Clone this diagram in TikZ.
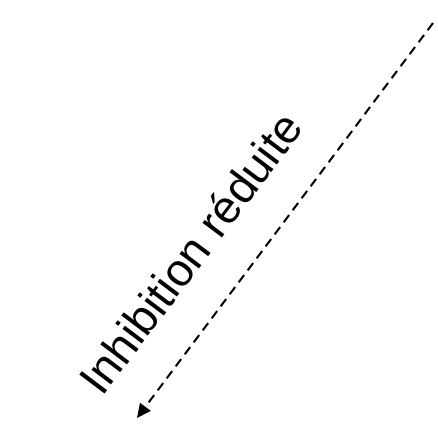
\documentclass[tikz,border=0pt]{standalone}
\usepackage{fontspec}
\setmainfont{Liberation Sans}
\usetikzlibrary{arrows.meta}
\begin{document}
\begin{tikzpicture}[x=1pt,y=1pt,
  dashedarrow/.style={line width=2pt, dash pattern=on 9pt off 6pt, -{Triangle[length=14pt,width=13pt]}},
  labeltext/.style={font=\fontsize{46}{50}\selectfont, inner sep=0pt, rotate=53, anchor=base west}]
\useasboundingbox (0,0) rectangle (438,426);
\coordinate (start) at (433,403);
\coordinate (end) at (137,8);
\draw[dashedarrow] (start) -- (end);
\node[labeltext] (lbl) at (102,28) {Inhibition réduite};
\end{tikzpicture}
\end{document}
